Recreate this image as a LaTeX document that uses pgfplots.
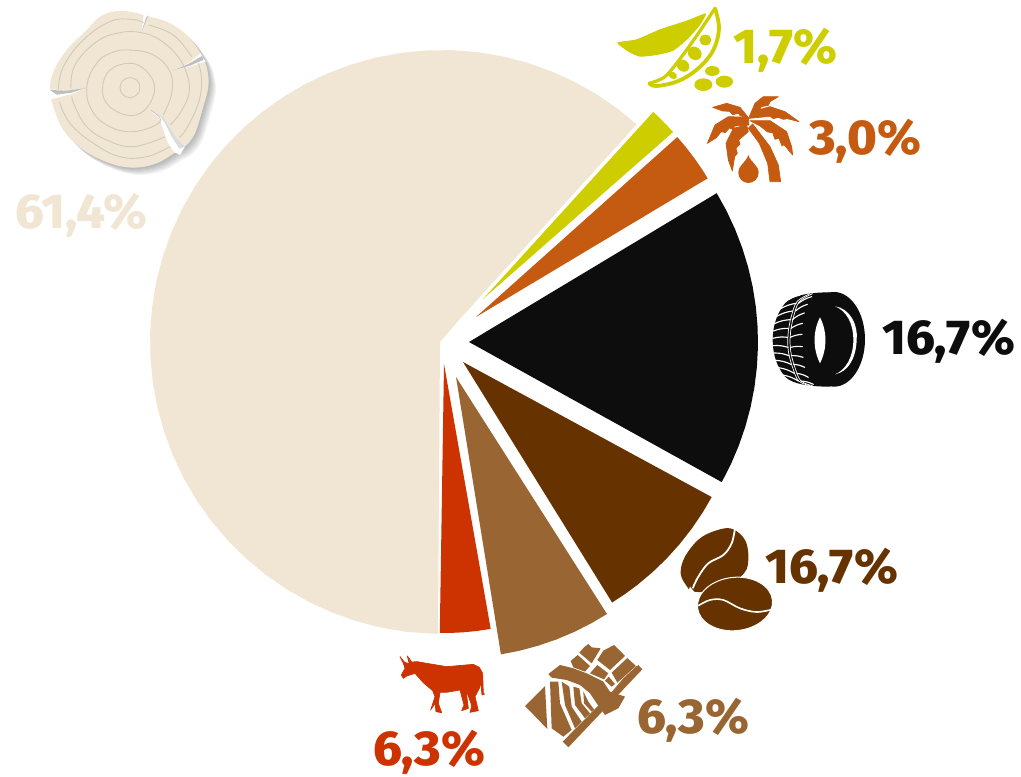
\documentclass[border=0pt]{standalone}
\usepackage{pgfplots}
\pgfplotsset{compat=1.18}
\usepackage{fontspec}
\newfontfamily\lab{Fira Sans ExtraBold}
\definecolor{cwood}{HTML}{F0E6D3}
\definecolor{cpea}{HTML}{CDCD00}
\definecolor{cpalm}{HTML}{C55A11}
\definecolor{ctire}{HTML}{0D0D0D}
\definecolor{ccoffee}{HTML}{663300}
\definecolor{ccocoa}{HTML}{996633}
\definecolor{cbeef}{HTML}{CC3300}
\definecolor{cring}{HTML}{CFCABF}
\newcommand{\lbl}[4]{\node[anchor=base west,inner sep=0pt,text=#3,xscale=1.03] at (axis cs:#1,#2) {\fontsize{49}{49}\selectfont\lab #4};}
\tikzset{icon/.style n args={2}{x=0.33333pt,y=-0.33333pt,shift={(#1pt,777pt-#2pt)}}}
\begin{document}
\begin{tikzpicture}
\path[use as bounding box] (0,0) rectangle (1021pt,777pt);
\begin{axis}[at={(0pt,0pt)},anchor=south west,scale only axis,width=1021pt,height=777pt,
  xmin=0,xmax=1021,ymin=0,ymax=777,y dir=reverse,hide axis,clip=false,data cs=polar]
% wood
\addplot[fill=cwood,draw=none,shift={(442pt,-342pt)}] coordinates {
 (180,2) (-52.3,27.8) (-48.2,292) (-53,292) (-58,292) (-63,292) (-68,292) (-73,292) (-78,292) (-83,292) (-88,292)
 (-93,292) (-98,292) (-103,292) (-108,292) (-113,292) (-118,292) (-123,292) (-128,292) (-133,292) (-138,292)
 (-143,292) (-148,292) (-153,292) (-158,292) (-163,292) (-168,292) (-173,292) (-178,292) (-183,292) (-188,292)
 (-193,292) (-198,292) (-203,292) (-208,292) (-213,292) (-218,292) (-223,292) (-228,292) (-233,292) (-238,292)
 (-243,292) (-248,292) (-253,292) (-258,292) (-263,292) (-269.2,292)} --cycle;
% soy
\addplot[fill=cpea,draw=none,shift={(483pt,-299pt)}] coordinates {
 (0,0) (-47.7,253) (-45.5,253) (-43.5,253) (-41.3,253)} --cycle;
% palm
\addplot[fill=cpalm,draw=none,shift={(476pt,-317pt)}] coordinates {
 (0,0) (-41.8,270) (-39,270) (-36,270) (-33,270) (-30.9,270)} --cycle;
% rubber
\addplot[fill=ctire,draw=none,shift={(469pt,-342pt)}] coordinates {
 (0,0) (-31,289) (-27,289) (-23,289) (-19,289) (-15,289) (-11,289) (-7,289) (-3,289) (1,289) (5,289) (9,289)
 (13,289) (17,289) (21,289) (25,289) (29,289)} --cycle;
% coffee
\addplot[fill=ccoffee,draw=none,shift={(463pt,-362pt)}] coordinates {
 (0,0) (28.5,283) (32,283) (36,283) (40,283) (44,283) (48,283) (52,283) (55,283) (58.2,283)} --cycle;
% cocoa
\addplot[fill=ccocoa,draw=none,shift={(456pt,-377pt)}] coordinates {
 (0,0) (57.5,281) (61,281) (65,281) (69,281) (73,281) (77,281) (80.8,281)} --cycle;
% beef
\addplot[fill=cbeef,draw=none,shift={(444pt,-364pt)}] coordinates {
 (0,0) (80,269) (83,269) (86,269) (88.5,269) (90.9,269)} --cycle;
% labels
\lbl{15}{228}{cwood}{61,4\%}
\lbl{733}{63}{cpea}{1,7\%}
\lbl{809}{154}{cpalm}{3,0\%}
\lbl{882}{354}{ctire}{16,7\%}
\lbl{765}{583}{ccoffee}{16,7\%}
\lbl{637}{733}{ccocoa}{6,3\%}
\lbl{373}{765}{cbeef}{6,3\%}
\end{axis}
% ---------- log icon
\begin{scope}[icon={0}{0}]
\def\logblob{plot[smooth cycle,tension=.6] coordinates {(350,33)(400,37)(440,48)(500,65)(560,105)(605,165)(622,210)(625,260)(610,320)(585,400)(555,440)(525,458)(470,490)(400,503)(330,490)(250,450)(190,390)(160,320)(150,268)(160,215)(200,150)(260,90)(300,50)}}
\foreach \d in {4,7,10,13,16,19,22}{\fill[black,opacity=.045,shift={(\d*.333pt,-\d*.333pt)}] \logblob;}
\fill[cwood] \logblob;
\fill[white] (432,40)--(447,42)--(424,98)--cycle;
\fill[black!22] (438,52)--(446,46)--(424,98)--cycle;
\fill[white] (602,160)--(610,178)--(618,184)--(575,198)--(518,212)--(565,190)--cycle;
\fill[black!25] (606,168)--(610,180)--(570,197)--(518,212)--(565,192)--cycle;
\fill[white] (145,268)--(200,272)--(258,264)--(215,282)--(157,297)--(140,297)--cycle;
\fill[black!25] (150,270)--(200,272)--(258,264)--(215,278)--(170,284)--cycle;
\fill[white] (452,332)--(490,350)--(510,385)--(530,415)--(555,440)--(540,465)--(522,456)--(502,425)--(490,390)--(478,355)--cycle;
\fill[black!14] (452,332)--(490,350)--(510,385)--(530,415)--(555,440)--(538,446)--(515,410)--(498,375)--(482,350)--cycle;
\begin{scope}[draw=cring,line width=.9pt]
\draw (390,263) circle[radius=30];
\draw plot[smooth cycle,tension=.7] coordinates {(385,190)(430,205)(462,250)(455,300)(420,340)(370,343)(320,310)(308,260)(330,210)};
\draw plot[smooth,tension=.7] coordinates {(452,330)(480,365)(400,395)(320,375)(270,320)(262,250)(290,190)(330,160)(385,150)(460,165)(510,215)(515,280)(490,345)};
\draw plot[smooth,tension=.7] coordinates {(213,265)(225,195)(290,125)(360,98)(424,98)(480,120)(530,165)(560,220)(567,280)(540,340)(510,375)};
\draw plot[smooth,tension=.7] coordinates {(215,290)(225,320)(260,380)(320,420)(400,440)(495,410)};
\draw plot[smooth,tension=.7] coordinates {(175,268)(190,200)(250,120)(330,65)(395,58)(430,68)};
\draw plot[smooth,tension=.7] coordinates {(445,75)(520,105)(575,170)};
\draw plot[smooth,tension=.7] coordinates {(595,190)(605,240)(595,310)(560,385)(538,412)};
\draw plot[smooth,tension=.7] coordinates {(178,305)(210,370)(280,430)(360,470)(440,470)(510,440)};
\end{scope}
\end{scope}
% ---------- pea and palm
\begin{scope}[icon={600}{0}]
\fill[cpea] plot[smooth cycle,tension=.35] coordinates {(52,128)(110,118)(180,88)(260,62)(318,40)(300,75)(265,115)(220,152)(170,165)(120,170)(85,155)};
\draw[cpea,line width=3.8pt,line cap=round,line join=round] plot[smooth,tension=.6] coordinates {(345,25)(357,85)(340,150)(295,205)(235,243)(170,258)(148,250)};
\draw[cpea,line width=3.2pt,line cap=round] plot[smooth,tension=.5] coordinates {(148,250)(195,230)(245,170)(295,100)(335,40)(345,25)};
\fill[cpea] (316,120) ellipse[x radius=18,y radius=16];
\fill[cpea,rotate around={-40:(284,160)}] (284,160) ellipse[x radius=22,y radius=19];
\fill[cpea,rotate around={-40:(249,197)}] (249,197) ellipse[x radius=20,y radius=17];
\fill[cpea,rotate around={-30:(218,226)}] (218,226) ellipse[x radius=14,y radius=10];
\fill[cpea] (337,213) ellipse[x radius=22,y radius=15];
\fill[cpea] (310,254) ellipse[x radius=27,y radius=19];
\fill[cpea] (373,245) ellipse[x radius=26,y radius=18];
% palm
\begin{scope}[cpalm,line width=.7pt,line join=round]
\filldraw (458,372)--(510,440)--(535,495)--(542,545)--(510,545)--(503,490)--(478,430)--(445,385)--cycle;
\filldraw (440,375)--(400,385)--(378,430)--(385,480)--(397,513)--(404,470)--(412,460)--(408,445)--(420,432)--(416,420)--(445,395)--cycle;
\filldraw (338,322)--(380,310)--(420,322)--(447,355)--(420,347)--(416,340)--(398,344)--(388,334)--(368,333)--cycle;
\filldraw (322,430)--(345,375)--(385,350)--(445,352)--(447,375)--(405,378)--(398,388)--(388,384)--(376,398)--(364,395)--(348,414)--cycle;
\filldraw (535,290)--(490,290)--(465,310)--(447,352)--(457,350)--(480,328)--(484,320)--(505,316)--(510,305)--cycle;
\filldraw (597,365)--(555,335)--(510,320)--(475,330)--(448,355)--(500,350)--(512,350)--(520,356)--(535,352)--(550,358)--(562,356)--cycle;
\filldraw (450,362)--(510,362)--(560,395)--(575,440)--(578,465)--(552,434)--(546,438)--(537,415)--(525,418)--(518,398)--(503,396)--(480,378)--cycle;
\fill (445,465) .. controls (452,488) and (476,495) .. (476,518) .. controls (476,535) and (462,549) .. (445,549) .. controls (428,549) and (415,535) .. (415,518) .. controls (415,495) and (438,488) .. (445,465);
\end{scope}
\end{scope}
% ---------- tyre
\begin{scope}[icon={770}{285}]
\fill[ctire] (180,22) .. controls (130,22) and (70,28) .. (45,55) .. controls (20,85) and (8,125) .. (8,165) .. controls (8,205) and (20,245) .. (45,275) .. controls (70,300) and (130,305) .. (180,305) -- cycle;
\begin{scope}[white,line width=1.15pt,line cap=round]
\foreach \xa/\ya/\xb/\yb in {45/50/90/30,30/72/78/55,20/94/68/78,13/116/60/104,10/138/55/130,8/160/53/157,9/182/54/187,12/204/57/212,17/226/63/238,26/248/73/265,38/270/85/288}{
 \draw (\xa,\ya) to[bend left=10] (\xb,\yb);}
\foreach \xa/\ya/\xb/\yb in {85/55/125/35,76/78/112/58,67/104/103/84,63/130/98/115,61/157/96/148,62/187/97/185,65/212/99/217,71/238/104/247,81/265/115/277,93/288/130/298}{
 \draw (\xa,\ya) to[bend left=10] (\xb,\yb);}
\end{scope}
\draw[white,line width=.7pt] plot[smooth,tension=.6] coordinates {(120,26)(81,50)(64,94)(55,138)(53,165)(56,204)(68,248)(86,288)(120,302)};
\draw[white,line width=.7pt] plot[smooth,tension=.6] coordinates {(128,26)(88,50)(71,94)(62,138)(60,165)(63,204)(75,248)(93,288)(128,302)};
\fill[ctire] (192,163) ellipse[x radius=93,y radius=142];
\fill[white] (150,97) .. controls (128,140) and (128,190) .. (150,235) .. controls (172,190) and (172,140) .. (150,97);
\fill[white] (195,64) .. controls (240,70) and (265,120) .. (260,165) .. controls (258,220) and (235,260) .. (195,268) .. controls (228,255) and (250,215) .. (250,165) .. controls (250,115) and (230,78) .. (195,64);
\end{scope}
% ---------- coffee
\begin{scope}[icon={670}{520}]
\fill[ccoffee] plot[smooth cycle,tension=.6] coordinates {(190,28)(225,60)(235,110)(222,160)(150,210)(72,215)(50,198)(32,160)(45,110)(90,55)(150,28)};
\draw[white,line width=1.8pt] plot[smooth,tension=.6] coordinates {(195,25)(185,70)(160,105)(115,130)(85,170)(68,205)};
\fill[white] (60,200)--(80,225)--(50,225)--cycle;
\fill[ccoffee,draw=white,line width=1pt,rotate around={6:(195,252)}] (195,252) ellipse[x radius=113,y radius=80];
\draw[white,line width=1.6pt] plot[smooth,tension=.6] coordinates {(85,257)(120,240)(160,240)(210,265)(260,276)(308,268)};
\end{scope}
% ---------- chocolate
\begin{scope}[icon={510}{630}]
\begin{scope}[ccocoa]
\fill (45,228)--(105,168)--(112,297)--cycle;
\fill (385,105)--(397,118)--(175,352)--(158,335)--cycle;
\fill (208,68)--(222,52)--(235,42)--(245,52)--(272,55)--(245,100)--cycle;
\fill (280,62)--(312,45)--(345,78)--(300,120)--(262,90)--cycle;
\fill (182,93)--(203,75)--(240,108)--(225,125)--(190,112)--cycle;
\fill (262,105)--(295,130)--(282,148)--(240,130)--cycle;
\fill (305,128)--(352,84)--(378,108)--(322,158)--cycle;
\fill (296,140)--(315,162)--(305,170)--(285,152)--cycle;
\fill (340,145)--(380,108)--(384,112)--(310,180)--cycle;
\fill (115,132)--(150,105)--(190,115)--(230,130)--(280,155)--(300,185)--(345,200)--(325,235)--(285,255)--(260,220)--(240,190)--(210,165)--(170,150)--(125,143)--cycle;
\fill (120,155)--(145,155)--(150,220)--(185,300)--(160,320)--(125,295)--cycle;
\fill (155,155)--(178,170)--(185,230)--(215,275)--(195,295)--(165,225)--cycle;
\fill (190,170)--(208,175)--(215,220)--(240,250)--(225,265)--(195,225)--cycle;
\fill (220,185)--(235,215)--(252,238)--(245,245)--(222,220)--cycle;
\end{scope}
\end{scope}
% ---------- bull
\begin{scope}[icon={360}{640}]
\filldraw[cbeef,line width=.7pt,line join=round] (120,50)--(133,66)--(148,72)--(142,48)--(155,66)--(172,65)--(200,70)--(260,80)--(340,73)--(358,82)--(368,100)--(370,160)--(374,162)--(366,165)--(362,125)--(358,145)--(345,170)--(355,212)--(330,217)--(335,200)--(333,190)--(318,150)--(325,205)--(305,212)--(312,195)--(300,150)--(260,157)--(240,157)--(235,190)--(245,218)--(228,215)--(225,190)--(212,210)--(225,170)--(218,152)--(190,128)--(165,100)--(140,108)--(130,115)--(124,105)--(135,85)--(130,70)--cycle;
\end{scope}
\end{tikzpicture}
\end{document}
